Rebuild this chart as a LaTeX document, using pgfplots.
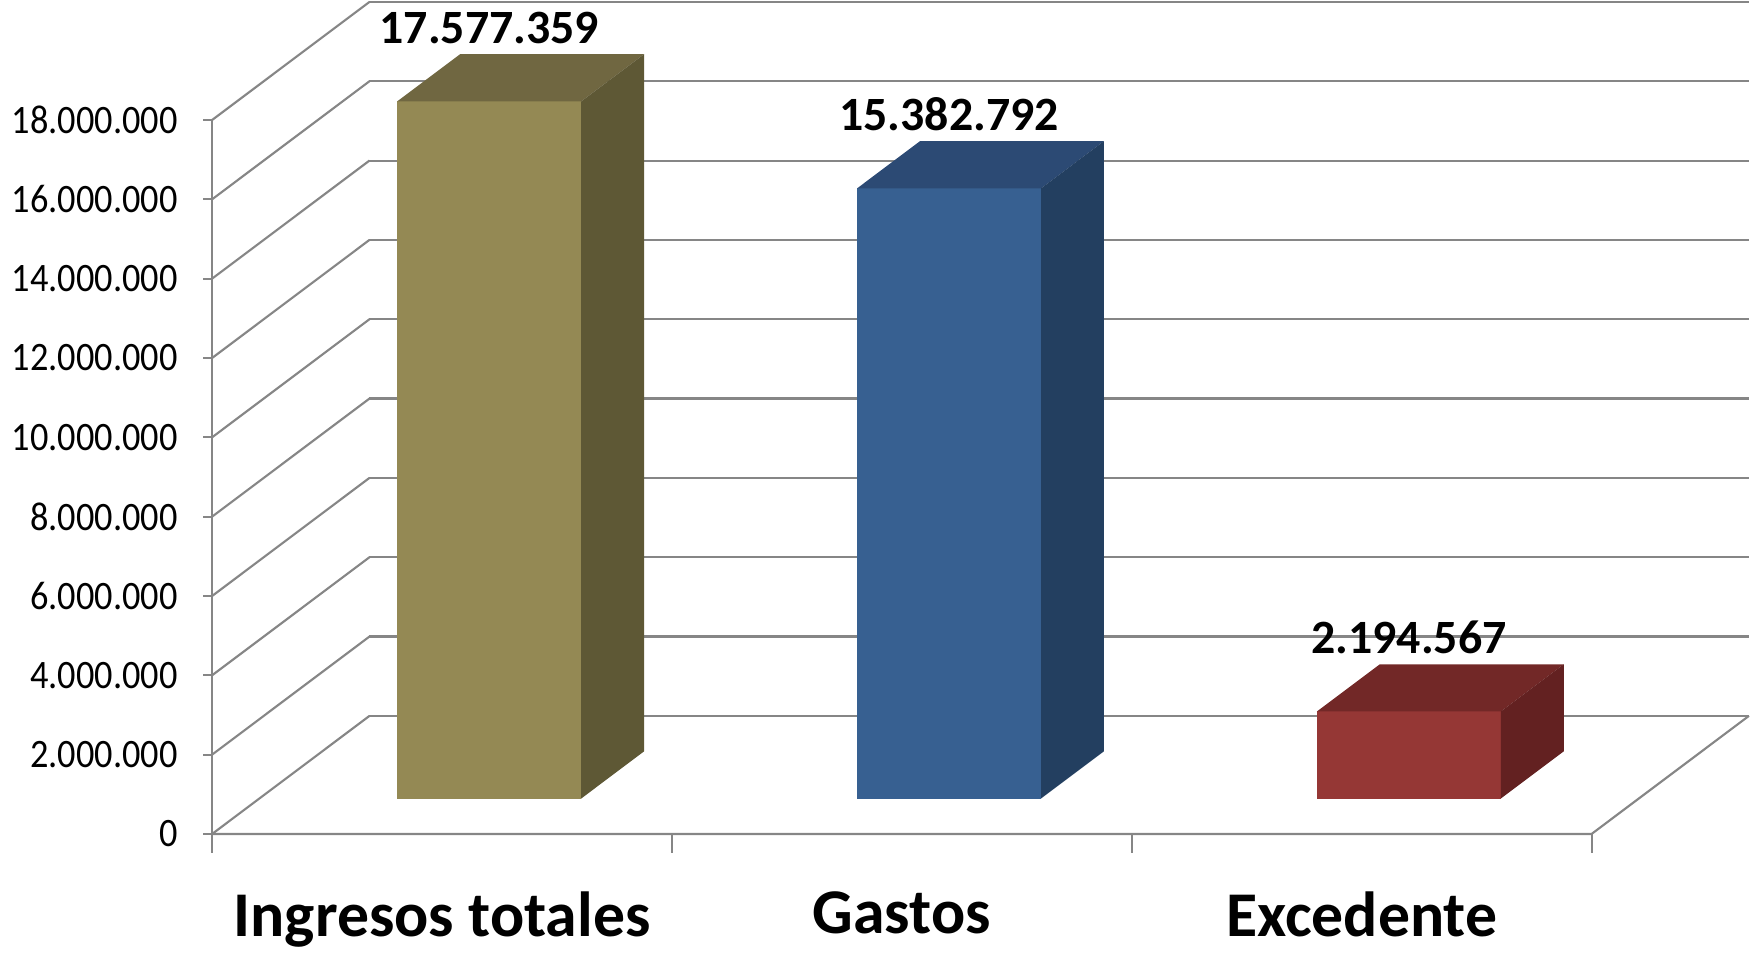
\documentclass[border=0pt]{standalone}
\usepackage{pgfplots}
\pgfplotsset{compat=1.18}
\usepackage{fontspec}
\setmainfont{Carlito}
\newfontfamily\tickfont[FakeStretch=0.9]{Carlito}

\definecolor{olivefront}{RGB}{148,137,84}
\definecolor{olivetop}{RGB}{112,103,65}
\definecolor{oliveside}{RGB}{94,88,53}
\definecolor{bluefront}{RGB}{55,96,145}
\definecolor{bluetop}{RGB}{44,74,116}
\definecolor{blueside}{RGB}{35,63,96}
\definecolor{redfront}{RGB}{149,55,53}
\definecolor{redtop}{RGB}{114,40,39}
\definecolor{redside}{RGB}{99,33,33}
\definecolor{gridgray}{RGB}{134,134,134}

\begin{document}
\begin{tikzpicture}
\begin{axis}[
    % oblique projection: x = category, y = depth, z = value (millions)
    x={(4.564cm,0cm)}, y={(1.562cm,1.172cm)}, z={(0cm,0.3937cm)},
    xmin=0.5, xmax=3.5, ymin=0, ymax=1, zmin=0, zmax=18,
    clip=false,
    axis line style={draw=none},
    tick style={draw=none},
    zmajorgrids=true, xmajorgrids=false, ymajorgrids=false,
    grid style={gridgray, line width=0.6pt},
    ztick={0,2,...,18},
    zticklabels={0,2.000.000,4.000.000,6.000.000,8.000.000,10.000.000,12.000.000,14.000.000,16.000.000,18.000.000},
    xtick={1,2,3},
    xticklabels={Ingresos totales,Gastos,Excedente},
    ytick=\empty,
    zticklabel style={font=\tickfont\fontsize{11.4}{13}\selectfont, anchor=east, xshift=-0.22cm},
    xticklabel style={font=\bfseries\fontsize{18}{20}\selectfont, anchor=north, yshift=-0.45cm},
    unbounded coords=jump,
]
% axis edges
\addplot3[gridgray, line width=0.6pt, mark=none] coordinates {(0.5,0,0) (0.5,0,18)};
\addplot3[gridgray, line width=0.6pt, mark=none] coordinates {(0.5,0,0) (3.5,0,0) (3.5,1,0)};
% tick marks: category separators below the floor, short marks left of the value axis
\addplot3[gridgray, line width=0.6pt, mark=none] coordinates {
    (0.5,0,0) (0.5,0,-0.48) (nan,nan,nan)
    (1.5,0,0) (1.5,0,-0.48) (nan,nan,nan)
    (2.5,0,0) (2.5,0,-0.48) (nan,nan,nan)
    (3.5,0,0) (3.5,0,-0.48)};
\addplot3[gridgray, line width=0.6pt, mark=none] coordinates {
    (0.5,0,0) (0.48,0,0) (nan,nan,nan)
    (0.5,0,2) (0.48,0,2) (nan,nan,nan)
    (0.5,0,4) (0.48,0,4) (nan,nan,nan)
    (0.5,0,6) (0.48,0,6) (nan,nan,nan)
    (0.5,0,8) (0.48,0,8) (nan,nan,nan)
    (0.5,0,10) (0.48,0,10) (nan,nan,nan)
    (0.5,0,12) (0.48,0,12) (nan,nan,nan)
    (0.5,0,14) (0.48,0,14) (nan,nan,nan)
    (0.5,0,16) (0.48,0,16) (nan,nan,nan)
    (0.5,0,18) (0.48,0,18)};

% Ingresos totales: 17.577.359
\addplot3[fill=olivefront, draw=none, mark=none] coordinates {(0.8,0.3,0) (1.2,0.3,0) (1.2,0.3,17.577359) (0.8,0.3,17.577359)};
\addplot3[fill=olivetop, draw=none, mark=none] coordinates {(0.8,0.3,17.577359) (1.2,0.3,17.577359) (1.2,0.7,17.577359) (0.8,0.7,17.577359)};
\addplot3[fill=oliveside, draw=none, mark=none] coordinates {(1.2,0.3,0) (1.2,0.7,0) (1.2,0.7,17.577359) (1.2,0.3,17.577359)};

% Gastos: 15.382.792
\addplot3[fill=bluefront, draw=none, mark=none] coordinates {(1.8,0.3,0) (2.2,0.3,0) (2.2,0.3,15.382792) (1.8,0.3,15.382792)};
\addplot3[fill=bluetop, draw=none, mark=none] coordinates {(1.8,0.3,15.382792) (2.2,0.3,15.382792) (2.2,0.7,15.382792) (1.8,0.7,15.382792)};
\addplot3[fill=blueside, draw=none, mark=none] coordinates {(2.2,0.3,0) (2.2,0.7,0) (2.2,0.7,15.382792) (2.2,0.3,15.382792)};

% Excedente: 2.194.567
\addplot3[fill=redfront, draw=none, mark=none] coordinates {(2.8,0.3,0) (3.2,0.3,0) (3.2,0.3,2.194567) (2.8,0.3,2.194567)};
\addplot3[fill=redtop, draw=none, mark=none] coordinates {(2.8,0.3,2.194567) (3.2,0.3,2.194567) (3.2,0.7,2.194567) (2.8,0.7,2.194567)};
\addplot3[fill=redside, draw=none, mark=none] coordinates {(3.2,0.3,0) (3.2,0.7,0) (3.2,0.7,2.194567) (3.2,0.3,2.194567)};

% value labels
\addplot3[draw=none, mark=none, nodes near coords, point meta=explicit symbolic,
    nodes near coords style={font=\bfseries\fontsize{13.5}{15}\selectfont, anchor=south, yshift=0.45cm}]
    coordinates {(1,0.3,17.577359) [17.577.359] (2,0.3,15.382792) [15.382.792] (3,0.3,2.194567) [2.194.567]};
\end{axis}
\end{tikzpicture}
\end{document}
